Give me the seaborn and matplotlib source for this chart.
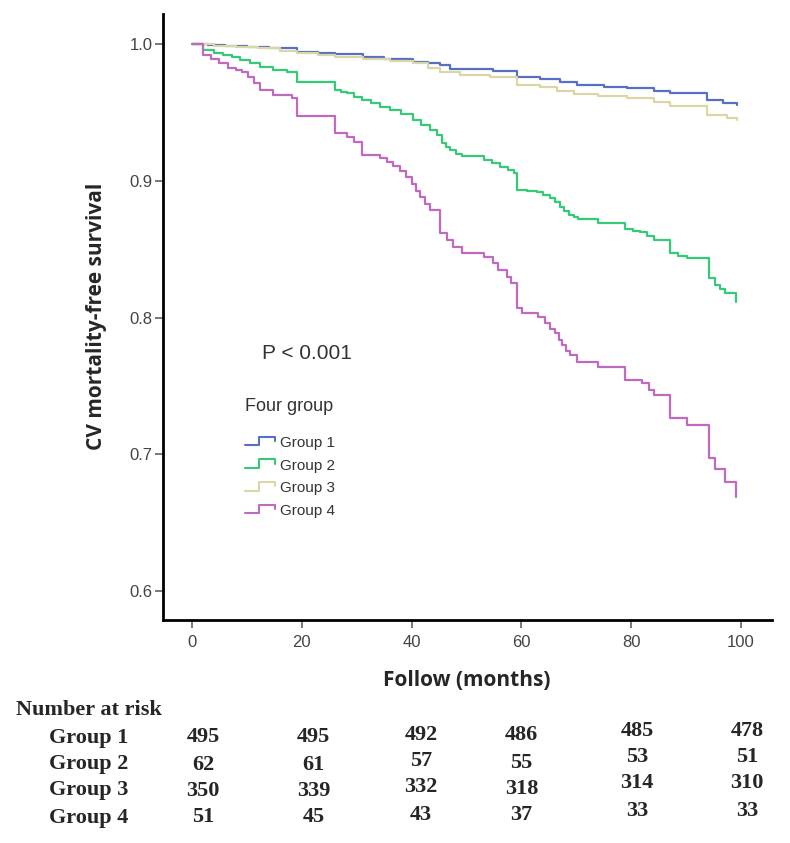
import numpy as np
import pandas as pd
import matplotlib
matplotlib.use('Agg')
import matplotlib.pyplot as plt
import matplotlib.transforms as mtransforms
from matplotlib.lines import Line2D
from matplotlib.legend_handler import HandlerBase
import seaborn as sns

# survival steps (months, survival after each step)
g1_t = [0, 3, 6, 10, 14, 19.1, 23, 26.1, 31.2, 35, 40.3, 43, 45.2, 47, 54.9, 59.2, 63.4, 67.1,
        70.1, 75, 79.2, 84.1, 87.1, 93.8, 96.8, 99.3]
g1_s = [1.0, .9995, .999, .998, .997, .9946, .9938, .9929, .9905, .989, .9873, .986, .9849, .9817,
        .9807, .9763, .9744, .9722, .9702, .969, .9678, .966, .9641, .9593, .9573, .9556]

g2_t = [0, 2.06, 4, 5.7, 7.2, 8.7, 10.5, 12.4, 14.8, 17.3, 19.1, 26.1, 27.2, 28.2, 29.5, 30.9, 32.6,
        34.3, 36, 38, 40.3, 41.8, 43.4, 44.6, 45.5, 46.3, 47.0, 48.0, 49.2, 53.1, 54.6, 56.1, 57.5,
        58.6, 59.2, 61, 62.8, 64, 65.2, 66.2, 67.1, 67.8, 68.6, 69.5, 70.4, 74.0, 78.9, 80.3, 81.6,
        82.9, 84.1, 87.1, 88.6, 90.2, 94.1, 95.3, 96.2, 97.1, 99.1]
g2_s = [1.0, .9958, .994, .9922, .9904, .9885, .986, .9836, .9812, .980, .9726, .9666, .9654, .9642,
        .9618, .9593, .9568, .9544, .952, .949, .9446, .941, .9373, .9335, .928, .925, .9227, .920,
        .9183, .9154, .913, .9105, .908, .9056, .8934, .8928, .8922, .8898, .8873, .8843, .8812,
        .878, .8751, .8735, .872, .8695, .8647, .8638, .8629, .8598, .8568, .8471, .8455, .8439,
        .8288, .8239, .8208, .8178, .8117]

g3_t = [0, 4, 8, 12, 16, 19.1, 23, 26.1, 31.2, 36, 40.3, 43, 45.2, 48.8, 54.3, 59.2, 63.4, 66.5,
        69.5, 74, 79.2, 84.1, 87.1, 93.8, 97.4, 99.3]
g3_s = [1.0, .999, .998, .997, .995, .9938, .992, .9905, .989, .9875, .9861, .983, .980, .9775,
        .9763, .9702, .9685, .966, .9636, .962, .9605, .958, .9549, .9483, .9459, .9446]

g4_t = [0, 2.06, 3.5, 5, 6.5, 8, 9.06, 10.2, 11.3, 12.4, 14.8, 18.2, 19.1, 26.1, 28.2, 29.5, 30.9,
        34.3, 35.5, 36.7, 37.8, 38.9, 40, 40.8, 41.6, 42.5, 43.4, 45.2, 46.4, 47.6, 49.2, 53.1, 54.9,
        55.8, 57.4, 58.2, 59.2, 60.1, 63.1, 64.3, 65.2, 66.1, 66.8, 67.4, 68.1, 68.8, 70.1, 74.0,
        78.9, 82.0, 83.2, 84.1, 87.1, 90.2, 94.1, 95.3, 97.1, 99.1]
g4_s = [1.0, .992, .989, .986, .983, .981, .980, .976, .972, .9666, .963, .9605, .9476, .9349,
        .9324, .9288, .919, .9166, .914, .911, .907, .903, .898, .893, .8885, .883, .8788, .8617,
        .857, .852, .8476, .8446, .840, .835, .830, .8252, .8069, .8037, .8003, .7959, .792, .7886,
        .784, .780, .776, .7727, .7678, .7642, .7544, .752, .7471, .7435, .7264, .7215, .6971,
        .689, .680, .669]

groups = ['Group 1', 'Group 2', 'Group 3', 'Group 4']
colors = ['#5670c4', '#35c978', '#dcd6a4', '#bf6ac0']

risk_cols = [0, 20, 40, 60, 80, 100]
risk_g1 = [495, 495, 492, 486, 485, 478]
risk_g2 = [62, 61, 57, 55, 53, 51]
risk_g3 = [350, 339, 332, 318, 314, 310]
risk_g4 = [51, 45, 43, 37, 33, 33]

df = pd.concat([
    pd.DataFrame({'t': g1_t, 's': g1_s, 'group': 'Group 1'}),
    pd.DataFrame({'t': g2_t, 's': g2_s, 'group': 'Group 2'}),
    pd.DataFrame({'t': g3_t, 's': g3_s, 'group': 'Group 3'}),
    pd.DataFrame({'t': g4_t, 's': g4_s, 'group': 'Group 4'}),
])

sns.set_style('ticks')
plt.rcParams['font.family'] = ['Liberation Sans', 'DejaVu Sans']

W, H = 790, 843
fig = plt.figure(figsize=(W / 100, H / 100), dpi=100)
ax = fig.add_axes([162.7 / W, 1 - 619.5 / H, 609 / W, 605.5 / H])

sns.lineplot(data=df, x='t', y='s', hue='group', hue_order=groups, palette=colors,
             estimator=None, drawstyle='steps-post', linewidth=1.6, legend=False, ax=ax)

ax.set_xlim(-5.34, 105.6)
ax.set_ylim(0.5792, 1.0222)
ax.set_xticks([0, 20, 40, 60, 80, 100])
ax.set_yticks([0.6, 0.7, 0.8, 0.9, 1.0])
ax.set_yticklabels(['0.6', '0.7', '0.8', '0.9', '1.0'])
sns.despine(ax=ax)
for sp in ['left', 'bottom']:
    ax.spines[sp].set_linewidth(2.0)
    ax.spines[sp].set_color('black')
ax.tick_params(direction='out', length=6, width=1.1, color='#555555', labelcolor='#444444',
               labelsize=12)
ax.tick_params(axis='x', pad=5)
ax.tick_params(axis='y', pad=1.5)
for lab in ax.get_xticklabels() + ax.get_yticklabels():
    lab.set_family(['Liberation Sans Narrow', 'Liberation Sans'])

ax.set_xlabel('Follow (months)', family=['Open Sans', 'DejaVu Sans'], fontweight='bold',
              fontsize=15, va='center')
ax.xaxis.set_label_coords(0.5, (619.5 - 680) / 605.5)
ax.set_ylabel('CV mortality-free survival', family=['Open Sans', 'DejaVu Sans'],
              fontweight='bold', fontsize=15, va='center')
ax.yaxis.set_label_coords((97 - 162.7) / 609, 0.5)

ax.text(0.1626, 0.4396, 'P < 0.001', transform=ax.transAxes, fontsize=15, color='#333333',
        ha='left', va='center')
ax.text(0.1351, 0.3514, 'Four group', transform=ax.transAxes, fontsize=13, color='#333333',
        ha='left', va='center')


class StepHandler(HandlerBase):
    def create_artists(self, legend, orig_handle, xdescent, ydescent, width, height, fontsize, trans):
        xs = np.array([0, .45, .45, 1, 1]) * width - xdescent
        ys = np.array([.15, .15, .95, .95, .55]) * height - ydescent
        ln = Line2D(xs, ys, color=orig_handle.get_color(), lw=1.5)
        ln.set_transform(trans)
        return [ln]


handles = [Line2D([], [], color=c) for c in colors]
ax.legend(handles, groups, loc='upper left', bbox_to_anchor=(0.1355, 0.303), frameon=False,
          fontsize=11, handlelength=1.95, handletextpad=0.3, labelspacing=0.56, borderpad=0,
          borderaxespad=0, labelcolor='#333333',
          handler_map={Line2D: StepHandler()})

# number at risk table
serif = ['Liberation Serif', 'DejaVu Serif']
fig.text(16 / W, 1 - 715 / H, 'Number at risk', family=serif, fontweight='bold', fontsize=16,
         ha='left', va='baseline')
trans = mtransforms.blended_transform_factory(ax.transData, fig.transFigure)
col_shift = [2.0, 2.1, 1.7, 0.0, 1.1, 1.1]
col_dy = [0, 0, -3, -2, -7, -7]
row_base = [742.5, 769.5, 795.5, 822.5]
risk = [risk_g1, risk_g2, risk_g3, risk_g4]
for i, g in enumerate(groups):
    fig.text(49 / W, 1 - row_base[i] / H, g, family=serif, fontweight='bold', fontsize=16,
             ha='left', va='baseline')
    for j, n in enumerate(risk[i]):
        ax.text(risk_cols[j] + col_shift[j], 1 - (row_base[i] + col_dy[j]) / H, str(n),
                transform=trans, family=serif, fontweight='bold', fontsize=16,
                ha='center', va='baseline', clip_on=False)

fig.savefig('out.png', dpi=100)
